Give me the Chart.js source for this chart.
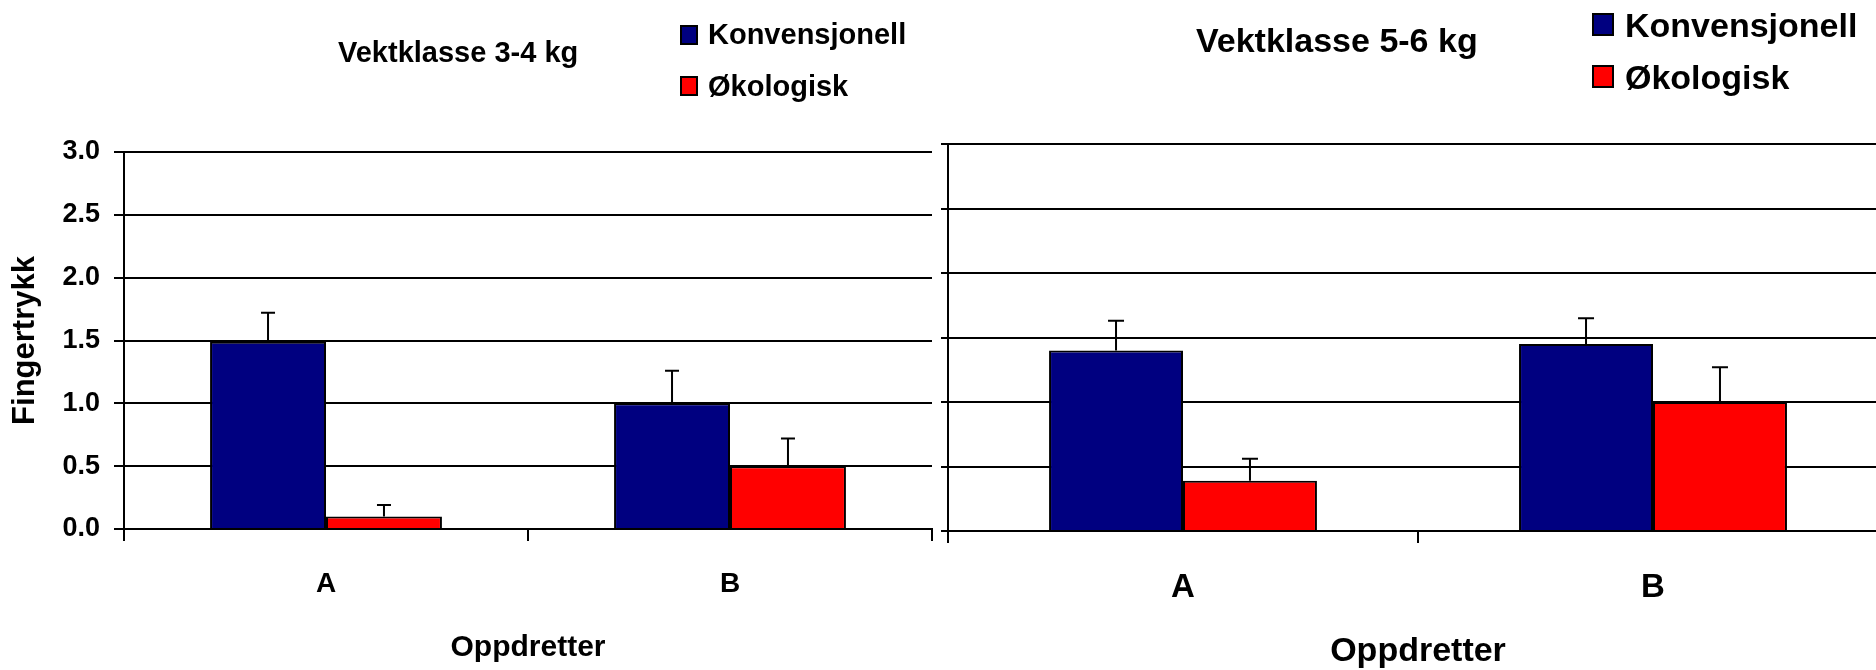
<!DOCTYPE html>
<html>
<head>
<meta charset="utf-8">
<title>Fingertrykk</title>
<script src="https://cdn.jsdelivr.net/npm/chart.js@4.4.0/dist/chart.umd.min.js"></script>
<style>
  html, body { margin: 0; padding: 0; background: #fff; width: 1876px; height: 670px; overflow: hidden; }
  body { position: relative; font-family: "Liberation Sans", Arial, sans-serif; font-weight: bold; color: #000; }
  canvas { position: absolute; top: 0; }
  .txt { position: absolute; line-height: 1; white-space: nowrap; }
  .sw { position: absolute; border: 2px solid #000; box-sizing: border-box; }
</style>
</head>
<body>
<canvas id="chart34" width="940" height="670" style="left:0"></canvas>
<canvas id="chart56" width="950" height="670" style="left:940px"></canvas>

<div class="txt" style="left:338px;top:38px;font-size:29px">Vektklasse 3-4 kg</div>
<div class="sw" style="left:680px;top:25px;width:18px;height:20px;background:#000080"></div>
<div class="txt" style="left:708px;top:20px;font-size:29px">Konvensjonell</div>
<div class="sw" style="left:680px;top:76px;width:18px;height:20px;background:#ff0000"></div>
<div class="txt" style="left:708px;top:72px;font-size:29px">Økologisk</div>

<div class="txt" style="left:1196px;top:23px;font-size:34px">Vektklasse 5-6 kg</div>
<div class="sw" style="left:1592px;top:13px;width:22px;height:23px;background:#000080"></div>
<div class="txt" style="left:1625px;top:8px;font-size:34px">Konvensjonell</div>
<div class="sw" style="left:1592px;top:65px;width:22px;height:23px;background:#ff0000"></div>
<div class="txt" style="left:1625px;top:60px;font-size:34px">Økologisk</div>

<script>
const categories = ['A', 'B'];
const seriesNames = ['Konvensjonell', 'Økologisk'];
const seriesColors = ['#000080', '#ff0000'];

// vektklasse 3-4 kg
const konv34 = [1.49, 1.00];
const konv34Err = [0.23, 0.26];
const oko34 = [0.10, 0.50];
const oko34Err = [0.09, 0.22];

// vektklasse 5-6 kg
const konv56 = [1.40, 1.45];
const konv56Err = [0.23, 0.20];
const oko56 = [0.39, 1.00];
const oko56Err = [0.17, 0.27];

const yTitle = 'Fingertrykk';
const xTitle = 'Oppdretter';

Chart.defaults.font.family = '"Liberation Sans", Arial, sans-serif';
Chart.defaults.color = '#000';

// upward error bars with a cap
const errorBars = {
  id: 'errorBars',
  afterDatasetsDraw(chart, args, opts) {
    const ctx = chart.ctx;
    const yScale = chart.scales.y;
    ctx.save();
    ctx.strokeStyle = '#000';
    ctx.lineWidth = 2;
    chart.data.datasets.forEach((ds, i) => {
      const meta = chart.getDatasetMeta(i);
      meta.data.forEach((bar, j) => {
        const top = yScale.getPixelForValue(ds.data[j] + ds.errors[j]);
        ctx.beginPath();
        ctx.moveTo(bar.x, bar.y);
        ctx.lineTo(bar.x, top);
        ctx.moveTo(bar.x - opts.cap / 2, top);
        ctx.lineTo(bar.x + opts.cap / 2, top);
        ctx.stroke();
      });
    });
    ctx.restore();
  }
};

function makeChart(id, konv, konvErr, oko, okoErr, o) {
  const ctx = document.getElementById(id).getContext('2d');
  return new Chart(ctx, {
    type: 'bar',
    data: {
      labels: categories,
      datasets: [
        { label: seriesNames[0], data: konv, errors: konvErr, backgroundColor: seriesColors[0] },
        { label: seriesNames[1], data: oko, errors: okoErr, backgroundColor: seriesColors[1] }
      ].map(d => Object.assign(d, {
        borderColor: '#000',
        borderWidth: 2,
        categoryPercentage: o.catPct,
        barPercentage: 1
      }))
    },
    plugins: [errorBars],
    options: {
      responsive: false,
      animation: false,
      layout: { padding: { top: o.top, right: o.right, bottom: 0, left: 0 } },
      plugins: {
        legend: { display: false },
        title: { display: false },
        tooltip: { enabled: false },
        errorBars: { cap: o.cap }
      },
      scales: {
        x: {
          afterFit: s => { s.height = o.xHeight; },
          grid: { display: true, drawOnChartArea: false, drawTicks: true, tickLength: 12, color: '#000', lineWidth: 2, offset: true },
          border: { display: true, color: '#000', width: 2 },
          ticks: { font: { size: o.xTickSize, weight: 'bold' }, padding: o.xTickPad, color: '#000' },
          title: { display: true, text: xTitle, font: { size: o.xTitleSize, weight: 'bold', lineHeight: 1 }, padding: { top: 0, bottom: o.xTitlePad }, color: '#000' }
        },
        y: {
          min: 0,
          max: 3,
          afterFit: s => { s.width = o.yWidth; },
          grid: { color: '#000', lineWidth: 2, drawTicks: true, tickLength: o.yTickLen },
          border: { display: true, color: '#000', width: 2 },
          ticks: {
            display: o.showY,
            stepSize: 0.5,
            font: { size: 27, weight: 'bold' },
            padding: 14,
            color: '#000',
            callback: v => v.toFixed(1)
          },
          title: { display: o.showY, text: yTitle, font: { size: 31, weight: 'bold' }, padding: { top: 7, bottom: 0 }, color: '#000' }
        }
      }
    }
  });
}

makeChart('chart34', konv34, konv34Err, oko34, oko34Err, {
  top: 152, right: 8, xHeight: 141, yWidth: 124, yTickLen: 10, showY: true,
  catPct: 0.574, cap: 14, xTickSize: 28, xTickPad: 26, xTitleSize: 30, xTitlePad: 7
});

makeChart('chart56', konv56, konv56Err, oko56, oko56Err, {
  top: 144, right: 2, xHeight: 139, yWidth: 8, yTickLen: 7, showY: false,
  catPct: 0.57, cap: 16, xTickSize: 33, xTickPad: 25, xTitleSize: 34, xTitlePad: 1
});
</script>
</body>
</html>
